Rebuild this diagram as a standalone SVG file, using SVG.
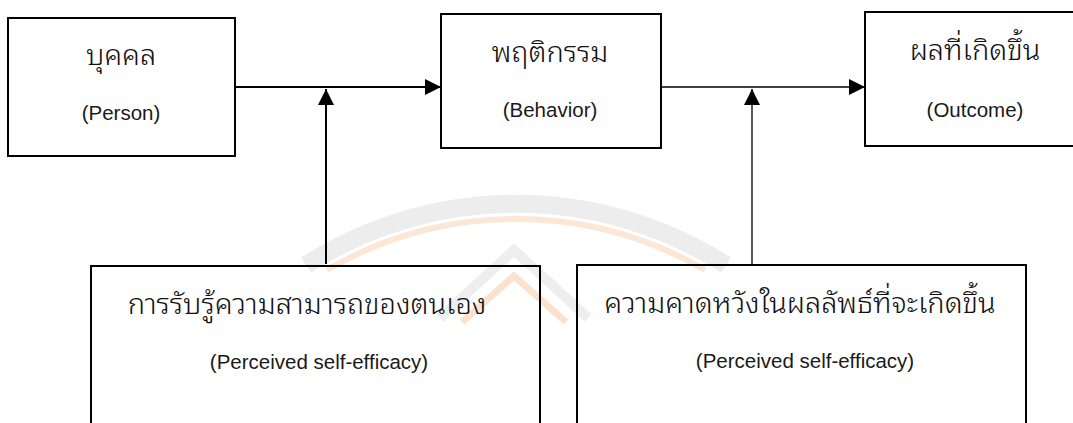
<svg xmlns="http://www.w3.org/2000/svg" width="1073" height="423" viewBox="0 0 1073 423">
<style>
.box{fill:none;stroke:#000;stroke-width:2}
.th{font-family:"Noto Sans Thai Looped","Loma","Garuda","Kinnari","Norasi","Sawasdee","Noto Serif Thai","Noto Sans Thai","Noto Sans",sans-serif;font-size:29px;font-weight:300;fill:#111;text-anchor:middle}
.en{font-family:"Liberation Sans",Arial,sans-serif;font-size:20.5px;fill:#1a1a1a;text-anchor:middle}
.c1{stroke:#000;stroke-width:2;fill:none}
.c2{stroke:#000;stroke-width:1.3;fill:none}
</style>
<defs>
<marker id="ah" markerUnits="userSpaceOnUse" markerWidth="16" markerHeight="16" viewBox="0 0 16 16" refX="16" refY="8" orient="auto">
<path d="M0,0 L16,8 L0,16 Z" fill="#000"/>
</marker>
</defs>
<rect width="1073" height="423" fill="#fff"/>
<g id="watermark">
<path d="M306,265 A391,391 0 0 1 726,265" fill="none" stroke="#ededed" stroke-width="18"/>
<path d="M327,270 A376,376 0 0 1 705,270" fill="none" stroke="#fce6d6" stroke-width="6"/>
<path d="M440,318 L514,250 L588,318" fill="none" stroke="#eeeeee" stroke-width="10"/>
<path d="M462,322 L514,276 L566,322" fill="none" stroke="#fbe2cf" stroke-width="7"/>
</g>
<g id="connectors">
<line class="c1" x1="236" y1="87" x2="441" y2="87" marker-end="url(#ah)"/>
<line class="c1" x1="326" y1="264" x2="326" y2="89" marker-end="url(#ah)"/>
<line class="c2" x1="662" y1="87" x2="865" y2="87" marker-end="url(#ah)"/>
<line class="c2" x1="752" y1="264" x2="752" y2="89" marker-end="url(#ah)"/>
</g>
<g id="person">
<rect class="box" x="8" y="18" width="227" height="138"/>
<text class="th" x="121" y="65">บุคคล</text>
<text class="en" x="121" y="120">(Person)</text>
</g>
<g id="behavior">
<rect class="box" x="441" y="14" width="220" height="134"/>
<text class="th" x="550" y="62">พฤติกรรม</text>
<text class="en" x="550" y="117">(Behavior)</text>
</g>
<g id="outcome">
<rect class="box" x="865" y="12" width="220" height="134"/>
<text class="th" x="975" y="60">ผลที่เกิดขึ้น</text>
<text class="en" x="975" y="117">(Outcome)</text>
</g>
<g id="self-efficacy">
<rect class="box" x="91" y="266" width="449" height="170"/>
<text class="th" x="307" y="314">การรับรู้ความสามารถของตนเอง</text>
<text class="en" x="319" y="369">(Perceived self-efficacy)</text>
</g>
<g id="outcome-expectation">
<rect class="box" x="577" y="265" width="449" height="170"/>
<text class="th" x="800" y="313">ความคาดหวังในผลลัพธ์ที่จะเกิดขึ้น</text>
<text class="en" x="805" y="368">(Perceived self-efficacy)</text>
</g>
</svg>
